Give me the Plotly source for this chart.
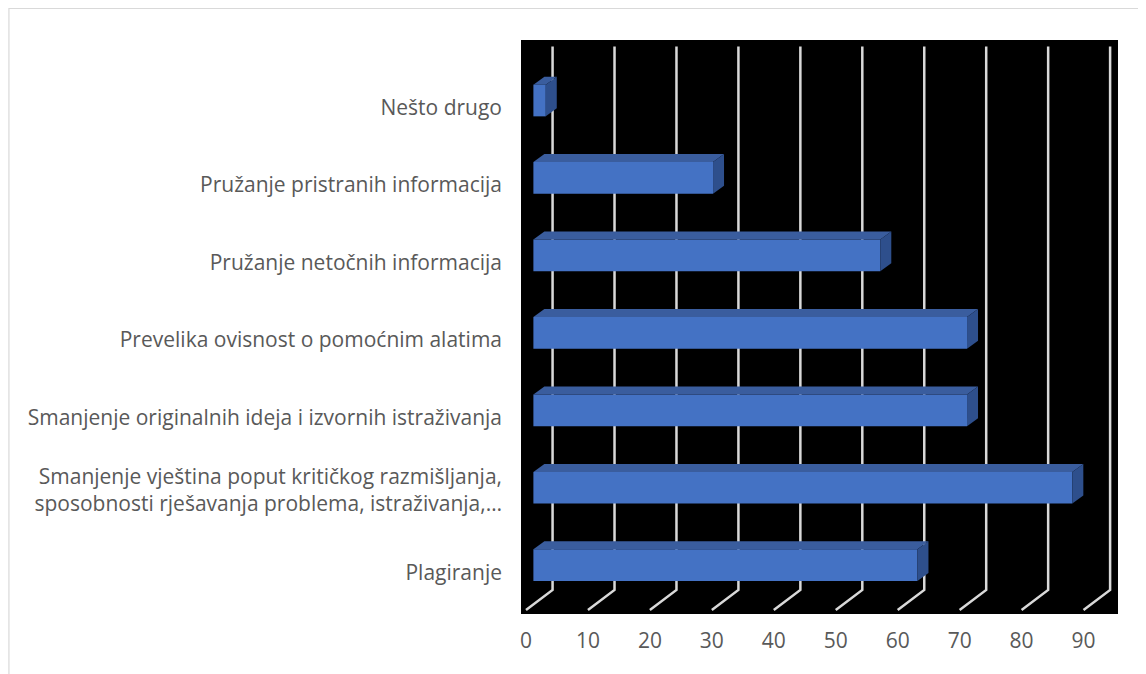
import plotly.graph_objects as go

# ---------------- data ----------------
categories = [
    "Plagiranje",
    "Smanjenje vještina poput kritičkog razmišljanja,<br>sposobnosti rješavanja problema, istraživanja,…",
    "Smanjenje originalnih ideja i izvornih istraživanja",
    "Prevelika ovisnost o pomoćnim alatima",
    "Pružanje netočnih informacija",
    "Pružanje pristranih informacija",
    "Nešto drugo",
]
values = [62, 87, 70, 70, 56, 29, 2]
x_ticks = [0, 10, 20, 30, 40, 50, 60, 70, 80, 90]

# ---------------- layout geometry (page pixels) ----------------
OFF = 8                      # default body margin of the html page
W, H = 1146 - OFF, 674 - OFF  # figure size
PL, PR, PT, PB = 521, 1118.5, 40, 614   # plot area in page pixels
X0_PX = 526.0          # page pixel of value 0 on the front floor edge
PX_PER_X = 6.2         # pixels per unit of value
Y0_PX = 565.2          # page pixel of first category centre
PX_PER_Y = 77.45       # pixels per category step

def px2x(px):
    return (px - X0_PX) / PX_PER_X

def py2y(py):
    return (Y0_PX - py) / PX_PER_Y

def xpaper(px):
    return (px - PL) / (PR - PL)

def ypaper(py):
    return (PB - py) / (PB - PT)

x_range = [px2x(PL), px2x(PR)]
y_range = [py2y(PB), py2y(PT)]

# 3D depth offsets
FLOOR_DX = 26.6 / PX_PER_X
Y_FRONT = py2y(610)
Y_BACK = py2y(590)
Y_TOP = py2y(46.5)
BAR_BASE = 7.4 / PX_PER_X      # bar front plane shift
BAR_HALF = 15.85 / PX_PER_Y
BAR_DX = 11 / PX_PER_X
BAR_DY = 8 / PX_PER_Y

FRONT = "#4472C4"
TOP = "#3A5D9E"
SIDE = "#2E4F8C"
GRID = "#D9D9D9"
TEXT = "#595959"
FONT = "Open Sans"
FS = 21

fig = go.Figure()

# front faces
ypos = list(range(len(categories)))
fig.add_trace(go.Bar(
    y=ypos, x=values, base=BAR_BASE, orientation="h",
    width=2 * BAR_HALF, marker=dict(color=FRONT, line=dict(width=0)),
    hoverinfo="skip", showlegend=False,
))

# top and side faces
for i, v in zip(ypos, values):
    x1 = BAR_BASE
    x2 = BAR_BASE + v
    yt = i + BAR_HALF
    yb = i - BAR_HALF
    fig.add_trace(go.Scatter(
        x=[x1, x2, x2 + BAR_DX, x1 + BAR_DX, x1],
        y=[yt, yt, yt + BAR_DY, yt + BAR_DY, yt],
        fill="toself", fillcolor=TOP, mode="lines", line=dict(width=0),
        hoverinfo="skip", showlegend=False,
    ))
    fig.add_trace(go.Scatter(
        x=[x2, x2 + BAR_DX, x2 + BAR_DX, x2, x2],
        y=[yb, yb + BAR_DY, yt + BAR_DY, yt, yb],
        fill="toself", fillcolor=SIDE, mode="lines", line=dict(width=0),
        hoverinfo="skip", showlegend=False,
    ))

# gridlines (back wall + floor) as shapes below traces
shapes = []
for t in x_ticks:
    xb = t + FLOOR_DX
    shapes.append(dict(
        type="path", xref="x", yref="y", layer="below",
        path=f"M {t},{Y_FRONT} L {xb},{Y_BACK} L {xb},{Y_TOP}",
        line=dict(color=GRID, width=2.5),
    ))

# outer chart border (left + top), at page pixel 8.5
shapes.append(dict(
    type="path", xref="paper", yref="paper", layer="above",
    path=(f"M {xpaper(8.5)},{ypaper(H + 40)} L {xpaper(8.5)},{ypaper(8.5)} "
          f"L {xpaper(W + 40)},{ypaper(8.5)}"),
    line=dict(color="#D9D9D9", width=1.2),
))

# tick placement of category labels (slightly below the bar centre)
tick_pos = [i - (0.03 if "<br>" in c else 0.09) for i, c in zip(ypos, categories)]

fig.update_layout(
    width=W, height=H,
    margin=dict(l=PL - OFF, r=W + OFF - PR, t=PT - OFF, b=H + OFF - PB, pad=0),
    paper_bgcolor="white", plot_bgcolor="black",
    font=dict(family=FONT, size=FS, color=TEXT),
    shapes=shapes,
    barmode="overlay",
    xaxis=dict(
        range=x_range, tickvals=x_ticks, ticktext=[str(t) for t in x_ticks],
        showgrid=False, zeroline=False, showline=False, ticks="",
        tickfont=dict(family=FONT, size=FS, color=TEXT),
        ticklabelstandoff=12, fixedrange=True,
    ),
    yaxis=dict(
        range=y_range, tickvals=tick_pos, ticktext=categories,
        showgrid=False, zeroline=False, showline=False, ticks="",
        tickfont=dict(family=FONT, size=FS, color=TEXT),
        ticklabelstandoff=18, fixedrange=True,
    ),
)

fig.write_html("out.html")
